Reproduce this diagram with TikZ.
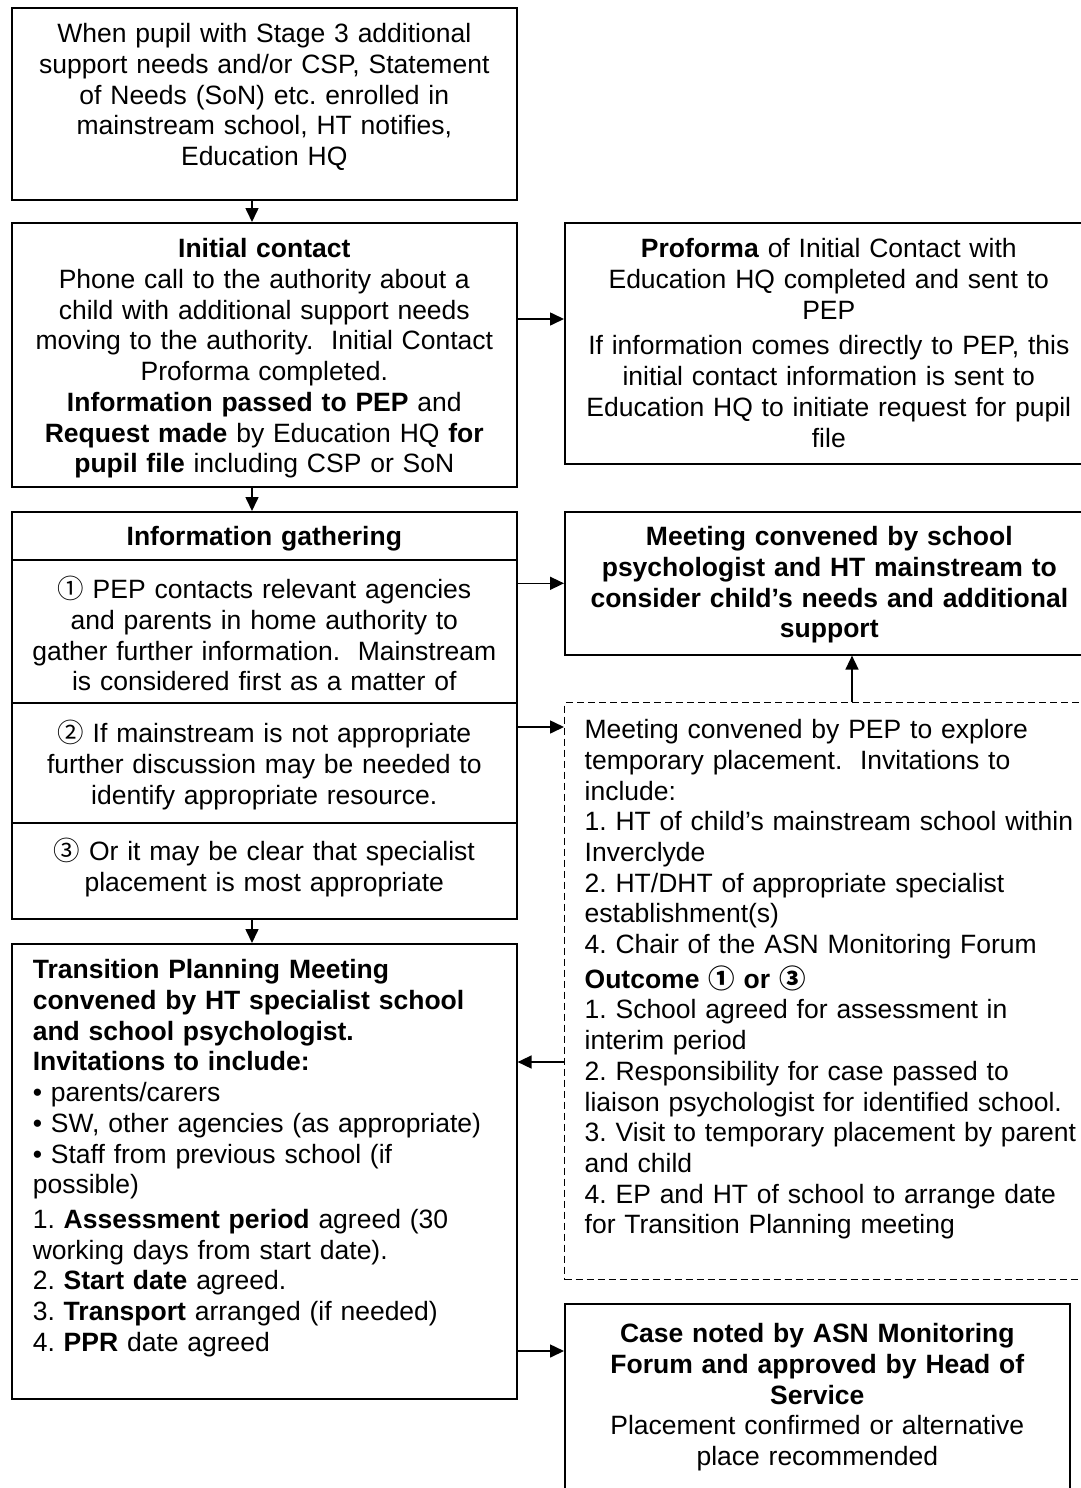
\documentclass[tikz,border=0pt]{standalone}
\usepackage{fontspec}
\setmainfont{Liberation Sans}
\newfontfamily\numfont{Noto Sans CJK SC}
\usepackage{tikz}
\usetikzlibrary{arrows.meta,positioning,calc}
\frenchspacing

\begin{document}
\begin{tikzpicture}[
  x=1pt, y=-1pt,
  cell/.style={draw, line width=1.6pt, anchor=north west, inner xsep=10pt, inner ysep=0pt, align=center, font={\fontsize{26.5}{30.7}\selectfont}},
  leftcell/.style={cell, align=left, inner xsep=20pt},
  dashcell/.style={leftcell, line width=1.3pt, dash pattern=on 7pt off 4pt},
  link/.style={line width=1.6pt, -{Triangle[length=14pt,width=13pt]}}
]

\useasboundingbox (0,0) rectangle (1081,1488);

\def\xA{11}
\def\xB{564}

\node[cell, text width=485pt, text height=35pt, text depth=157pt] (start) at (\xA, 7)
  {When pupil with Stage 3 additional\\support needs and/or CSP, Statement\\of Needs (SoN) etc. enrolled in\\mainstream school, HT notifies,\\Education HQ};

\node[cell, text width=485pt, text height=35pt, text depth=229pt] (contact) at (\xA, 222)
  {\textbf{Initial contact}\\Phone call to the authority about a\\child with additional support needs\\moving to the authority.~ Initial Contact\\Proforma completed.\\\textbf{Information passed to PEP} and\\\textbf{Request made} by Education HQ \textbf{for}\\\textbf{pupil file} including CSP or SoN};

\node[cell, text width=508pt, text height=35pt, text depth=206pt] (proforma) at (\xB, 222)
  {\textbf{Proforma} of Initial Contact with\\Education HQ completed and sent to\\PEP\\[5pt]If information comes directly to PEP, this\\initial contact information is sent to\\Education HQ to initiate request for pupil\\file};

\node[cell, text width=485pt, text height=34pt, text depth=14pt] (infohead) at (\xA, 511)
  {\textbf{Information gathering}};
\node[cell, text width=485pt, text height=39pt, text depth=104pt] (infoA) at (\xA, 559)
  {{\numfont ①} PEP contacts relevant agencies\\and parents in home authority to\\gather further information.~ Mainstream\\is considered first as a matter of};
\node[cell, text width=485pt, text height=40pt, text depth=80pt] (infoB) at (\xA, 702)
  {{\numfont ②} If mainstream is not appropriate\\further discussion may be needed to\\identify appropriate resource.};
\node[cell, text width=485pt, text height=38pt, text depth=58pt] (infoC) at (\xA, 822)
  {{\numfont ③} Or it may be clear that specialist\\placement is most appropriate};

\node[cell, text width=509pt, text height=34pt, text depth=109pt, font={\fontsize{26.5}{30.7}\selectfont\bfseries}] (meet) at (\xB, 511)
  {Meeting convened by school\\psychologist and HT mainstream to\\consider child’s needs and additional\\support};

\node[dashcell, text width=506pt, text height=36pt, text depth=541pt] (plan) at (\xB, 702)
  {Meeting convened by PEP to explore\\temporary placement.~ Invitations to\\include:\\1. HT of child’s mainstream school within\\Inverclyde\\2. HT/DHT of appropriate specialist\\establishment(s)\\4. Chair of the ASN Monitoring Forum\\[4pt]\textbf{Outcome {\numfont ①} or {\numfont ③}}\\1. School agreed for assessment in\\interim period\\2. Responsibility for case passed to\\liaison psychologist for identified school.\\3. Visit to temporary placement by parent\\and child\\4. EP and HT of school to arrange date\\for Transition Planning meeting};

\node[leftcell, inner xsep=21pt, text width=463pt, text height=35pt, text depth=420pt] (trans) at (\xA, 943)
  {\textbf{Transition Planning Meeting}\\\textbf{convened by HT specialist school}\\\textbf{and school psychologist.}\\\textbf{Invitations to include:}\\• parents/carers\\• SW, other agencies (as appropriate)\\• Staff from previous school (if\\possible)\\[4pt]1. \textbf{Assessment period} agreed (30\\working days from start date).\\2. \textbf{Start date} agreed.\\3. \textbf{Transport} arranged (if needed)\\4. \textbf{PPR} date agreed};

\node[cell, text width=485pt, text height=39pt, text depth=153pt] (case) at (\xB, 1303)
  {\textbf{Case noted by ASN Monitoring}\\\textbf{Forum and approved by Head of}\\\textbf{Service}\\Placement confirmed or alternative\\place recommended};

\coordinate (colA) at (252, 0);
\coordinate (colU) at (852, 0);
\coordinate (rowP) at (0, 319);
\coordinate (rowQ) at (0, 727);
\coordinate (rowR) at (0, 1062);
\coordinate (rowS) at (0, 1351);

\draw[link] (start.south -| colA) -- (contact.north -| colA);
\draw[link] (contact.south -| colA) -- (infohead.north -| colA);
\draw[link] (infoC.south -| colA) -- (trans.north -| colA);
\draw[link] (contact.east |- rowP) -- (proforma.west |- rowP);
\draw[link] (infoA.east |- meet.west) -- (meet.west);
\draw[link] (infoB.east |- rowQ) -- (plan.west |- rowQ);
\draw[link] (plan.north -| colU) -- (meet.south -| colU);
\draw[link] (plan.west |- rowR) -- (trans.east |- rowR);
\draw[link] (trans.east |- rowS) -- (case.west |- rowS);

\end{tikzpicture}
\end{document}
